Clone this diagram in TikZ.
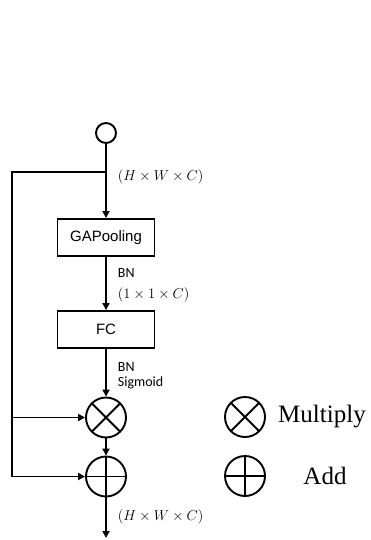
\documentclass[tikz,border=0pt]{standalone}
\usepackage{fontspec}
\usepackage{tikz}
\usetikzlibrary{arrows.meta}
\newfontfamily\boxfont{Liberation Sans}
\newfontfamily\notefont{Carlito}
\newfontfamily\keyfont{Liberation Serif}

\begin{document}
\begin{tikzpicture}[
				x=1pt, y=1pt,
				line width=1.9pt,
				block/.style = {draw, minimum width=97pt, minimum height=37pt, inner sep=0pt, font=\boxfont\fontsize{15}{18}\selectfont},
				port/.style = {draw, circle, minimum size=20pt, inner sep=0pt},
				mulop/.style = {draw, circle, minimum size=40pt, inner sep=0pt,
					path picture={\draw (path picture bounding box.north west) -- (path picture bounding box.south east)
						(path picture bounding box.north east) -- (path picture bounding box.south west);}},
				addop/.style = {draw, circle, minimum size=40pt, inner sep=0pt,
					path picture={\draw (path picture bounding box.north) -- (path picture bounding box.south)
						(path picture bounding box.west) -- (path picture bounding box.east);}},
				note/.style = {anchor=west, inner sep=0pt, font=\notefont\fontsize{14}{16}\selectfont},
				dims/.style = {anchor=west, inner sep=0pt, font=\fontsize{14.5}{16}\selectfont},
				keytext/.style = {inner sep=0pt, font=\keyfont\fontsize{25}{28}\selectfont},
				arrow/.style={-{Triangle[length=7pt, width=7pt]}}
				]
				\useasboundingbox (0,0) rectangle (370,-540);
				
				\node[port] (in) at (106,-133) {};
				\node[block] (gap) [below of=in, node distance=104.5pt] {GAPooling};
				\node[block] (fc) [below of=gap, node distance=92pt] {FC};
				\node[mulop] (mul) [below of=fc, node distance=88pt] {};
				\node[addop] (add) [below of=mul, node distance=59pt] {};
				
				\coordinate (split) at (106,-172);
				\coordinate (corner) at (12,-172);
				\coordinate (out) at (106,-538);
				
				\node[dims] (dimin) at (117,-177) {$(H\times W\times C)$};
				\node[note] (bn1) at (117,-273) {BN};
				\node[dims] (dimmid) at (117,-295) {$(1\times 1\times C)$};
				\node[note] (bn2) at (117,-367) {BN};
				\node[note] (sig) at (117,-383) {Sigmoid};
				\node[dims] (dimout) at (117,-517) {$(H\times W\times C)$};
				
				% key
				\node[mulop] (mulkey) at (245,-417) {};
				\node[addop] (addkey) at (245,-476) {};
				\node[keytext] (multext) at (322,-417) {Multiply};
				\node[keytext] (addtext) at (325,-476) {Add};
				
				\draw[arrow] (in) -- (gap);
				\draw[arrow] (gap) -- (fc);
				\draw[arrow] (fc) -- (mul);
				\draw[arrow] (mul) -- (add);
				\draw[arrow] (add) -- (out);
				\draw[arrow] (split) -- (corner) |- (add);
				\draw[arrow] (corner |- mul) -- (mul);
			\end{tikzpicture}
\end{document}
